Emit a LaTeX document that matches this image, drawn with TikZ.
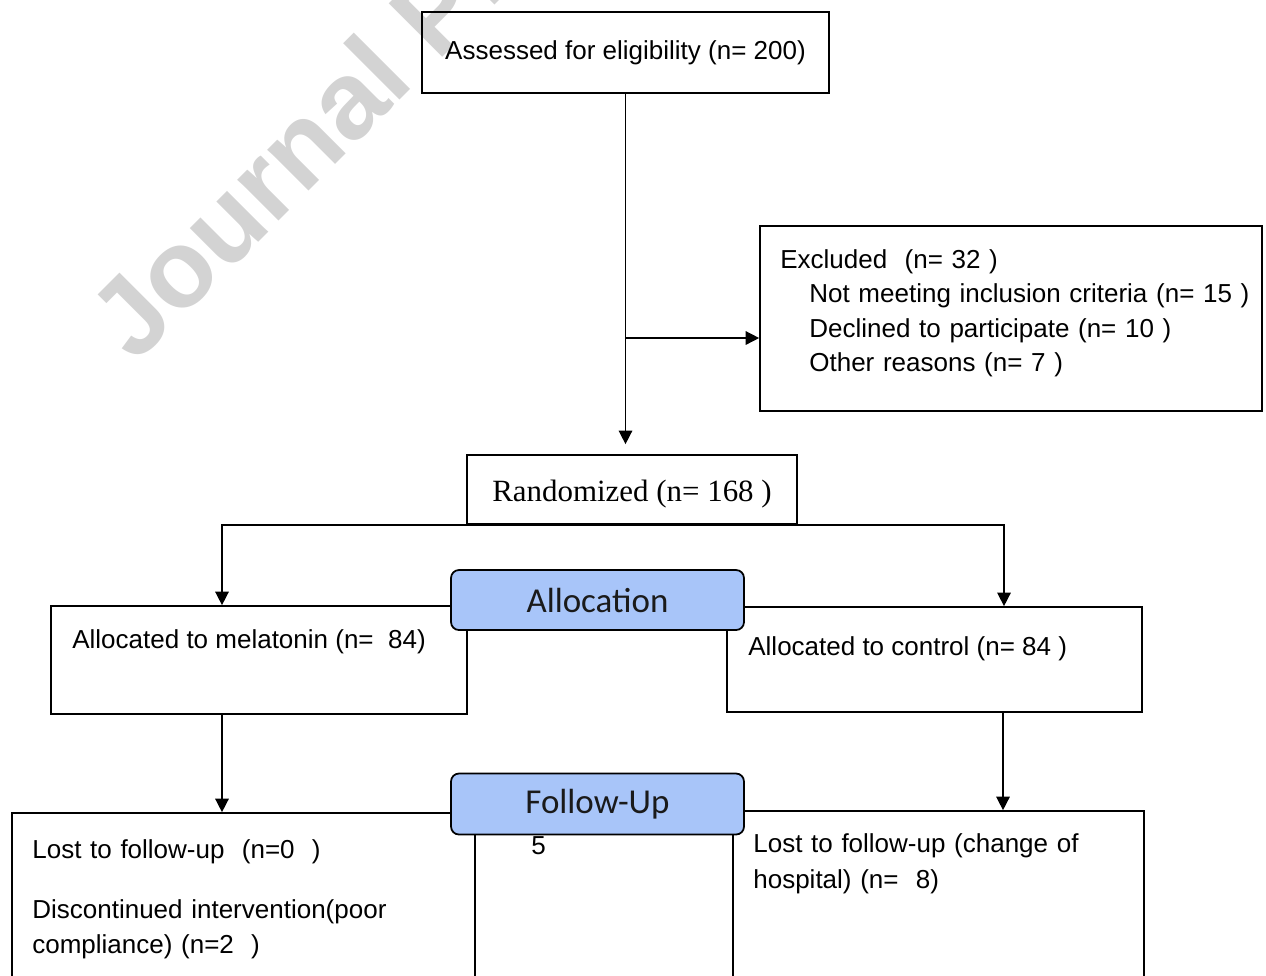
\documentclass[tikz,border=0pt]{standalone}
\usepackage{fontspec}
\setmainfont{Liberation Sans}
\newfontfamily\serifface{Liberation Serif}
\newfontfamily\phaseface{Carlito}
\usepackage{tikz}
\usetikzlibrary{arrows.meta,calc}
\definecolor{PhaseBlue}{HTML}{A8C5F9}
\definecolor{Stamp}{HTML}{D3D3D3}
\definecolor{Ink}{HTML}{1A1A1A}

\begin{document}
\begin{tikzpicture}[x=0.02cm,y=-0.02cm,
  box/.style={draw,line width=1pt,inner sep=0pt,font=\fontsize{14.8pt}{19.7pt}\selectfont},
  phase/.style={draw,line width=1pt,rounded corners=4.5pt,fill=PhaseBlue,inner sep=0pt,
    minimum width=5.86cm,text=Ink,font=\phaseface\fontsize{19.9pt}{24pt}\selectfont},
  txt/.style={inner sep=0pt,anchor=base west,align=left,font=\fontsize{14.8pt}{19.7pt}\selectfont},
  arr/.style={-{Triangle[length=0.27cm,width=0.27cm]},line width=0.85pt}
]
\useasboundingbox (0,0) rectangle (1266,975);
\clip (0,0) rectangle (1266,975);
\node[anchor=base west,rotate=45,inner sep=0pt,text=Stamp,font=\bfseries\fontsize{62.6pt}{70pt}\selectfont]
  (stamp) at (135,365) {Journal Pre-proof};
\node[box,minimum width=8.14cm,minimum height=1.62cm] (assess) at (625.5,52.5) {Assessed for eligibility (n= 200)};
\node[box,minimum width=10.04cm,minimum height=3.70cm] (excl) at (1011,318.5) {};
\node[txt,text width=9.6cm] (excltxt) at (780,268) {Excluded~~(n=~32~)\\
  \hspace*{0.58cm}Not meeting inclusion criteria (n=~15~)\\
  \hspace*{0.58cm}Declined to participate (n=~10~)\\
  \hspace*{0.58cm}Other reasons (n=~7~)};
\node[box,minimum width=6.60cm,minimum height=1.38cm,text height=18pt,text depth=4pt,
  font=\serifface\fontsize{17.6pt}{21pt}\selectfont] (rand) at (632,489.5) {Randomized (n=~168~)};
\node[box,minimum width=8.32cm,minimum height=2.16cm] (mel) at (259,660) {};
\node[txt] (meltxt) at (72,648) {Allocated to melatonin (n=~~84)};
\node[box,minimum width=8.30cm,minimum height=2.10cm] (ctl) at (934.5,659.5) {};
\node[txt] (ctltxt) at (748,655) {Allocated to control (n=~84~)};
\node[box,minimum width=9.26cm,minimum height=3.74cm] (lostm) at (243.5,906.5) {};
\node[txt,text width=8.6cm] (lostmtxt) at (32,858) {Lost to follow-up~~(n=0~~)\\[14.8pt]
  Discontinued intervention(poor\\compliance) (n=2~~)};
\node[box,minimum width=8.22cm,minimum height=3.78cm] (lostc) at (938.5,905.5) {};
\node[txt,text width=7.6cm] (lostctxt) at (753,852) {Lost to follow-up (change of\\[0.8pt]hospital) (n=~~8)};
\coordinate (exclarm) at (625,338);
\coordinate (melarm) at ($(mel.south)+(-37,0)$);
\coordinate (ctlarm) at ($(ctl.south)+(68.5,0)$);
\draw[arr,shorten >=0.2cm] (assess.south) -- (assess.south |- rand.north);
\draw[arr] (exclarm) -- (exclarm -| excl.west);
\draw[arr] (rand.south) -| ($(mel.north)+(-37,0)$);
\draw[arr] (rand.south) -| ($(ctl.north)+(69.5,0)$);
\draw[arr] (melarm) -- (melarm |- lostm.north);
\draw[arr] (ctlarm) -- (ctlarm |- lostc.north);
\node[phase,minimum height=1.20cm] (alloc) at (597.5,600) {Allocation};
\node[phase,minimum height=1.22cm] (fup) at (597.5,804) {Follow-Up};
\node[txt] (pageno) at (531,854) {5};
\end{tikzpicture}
\end{document}
